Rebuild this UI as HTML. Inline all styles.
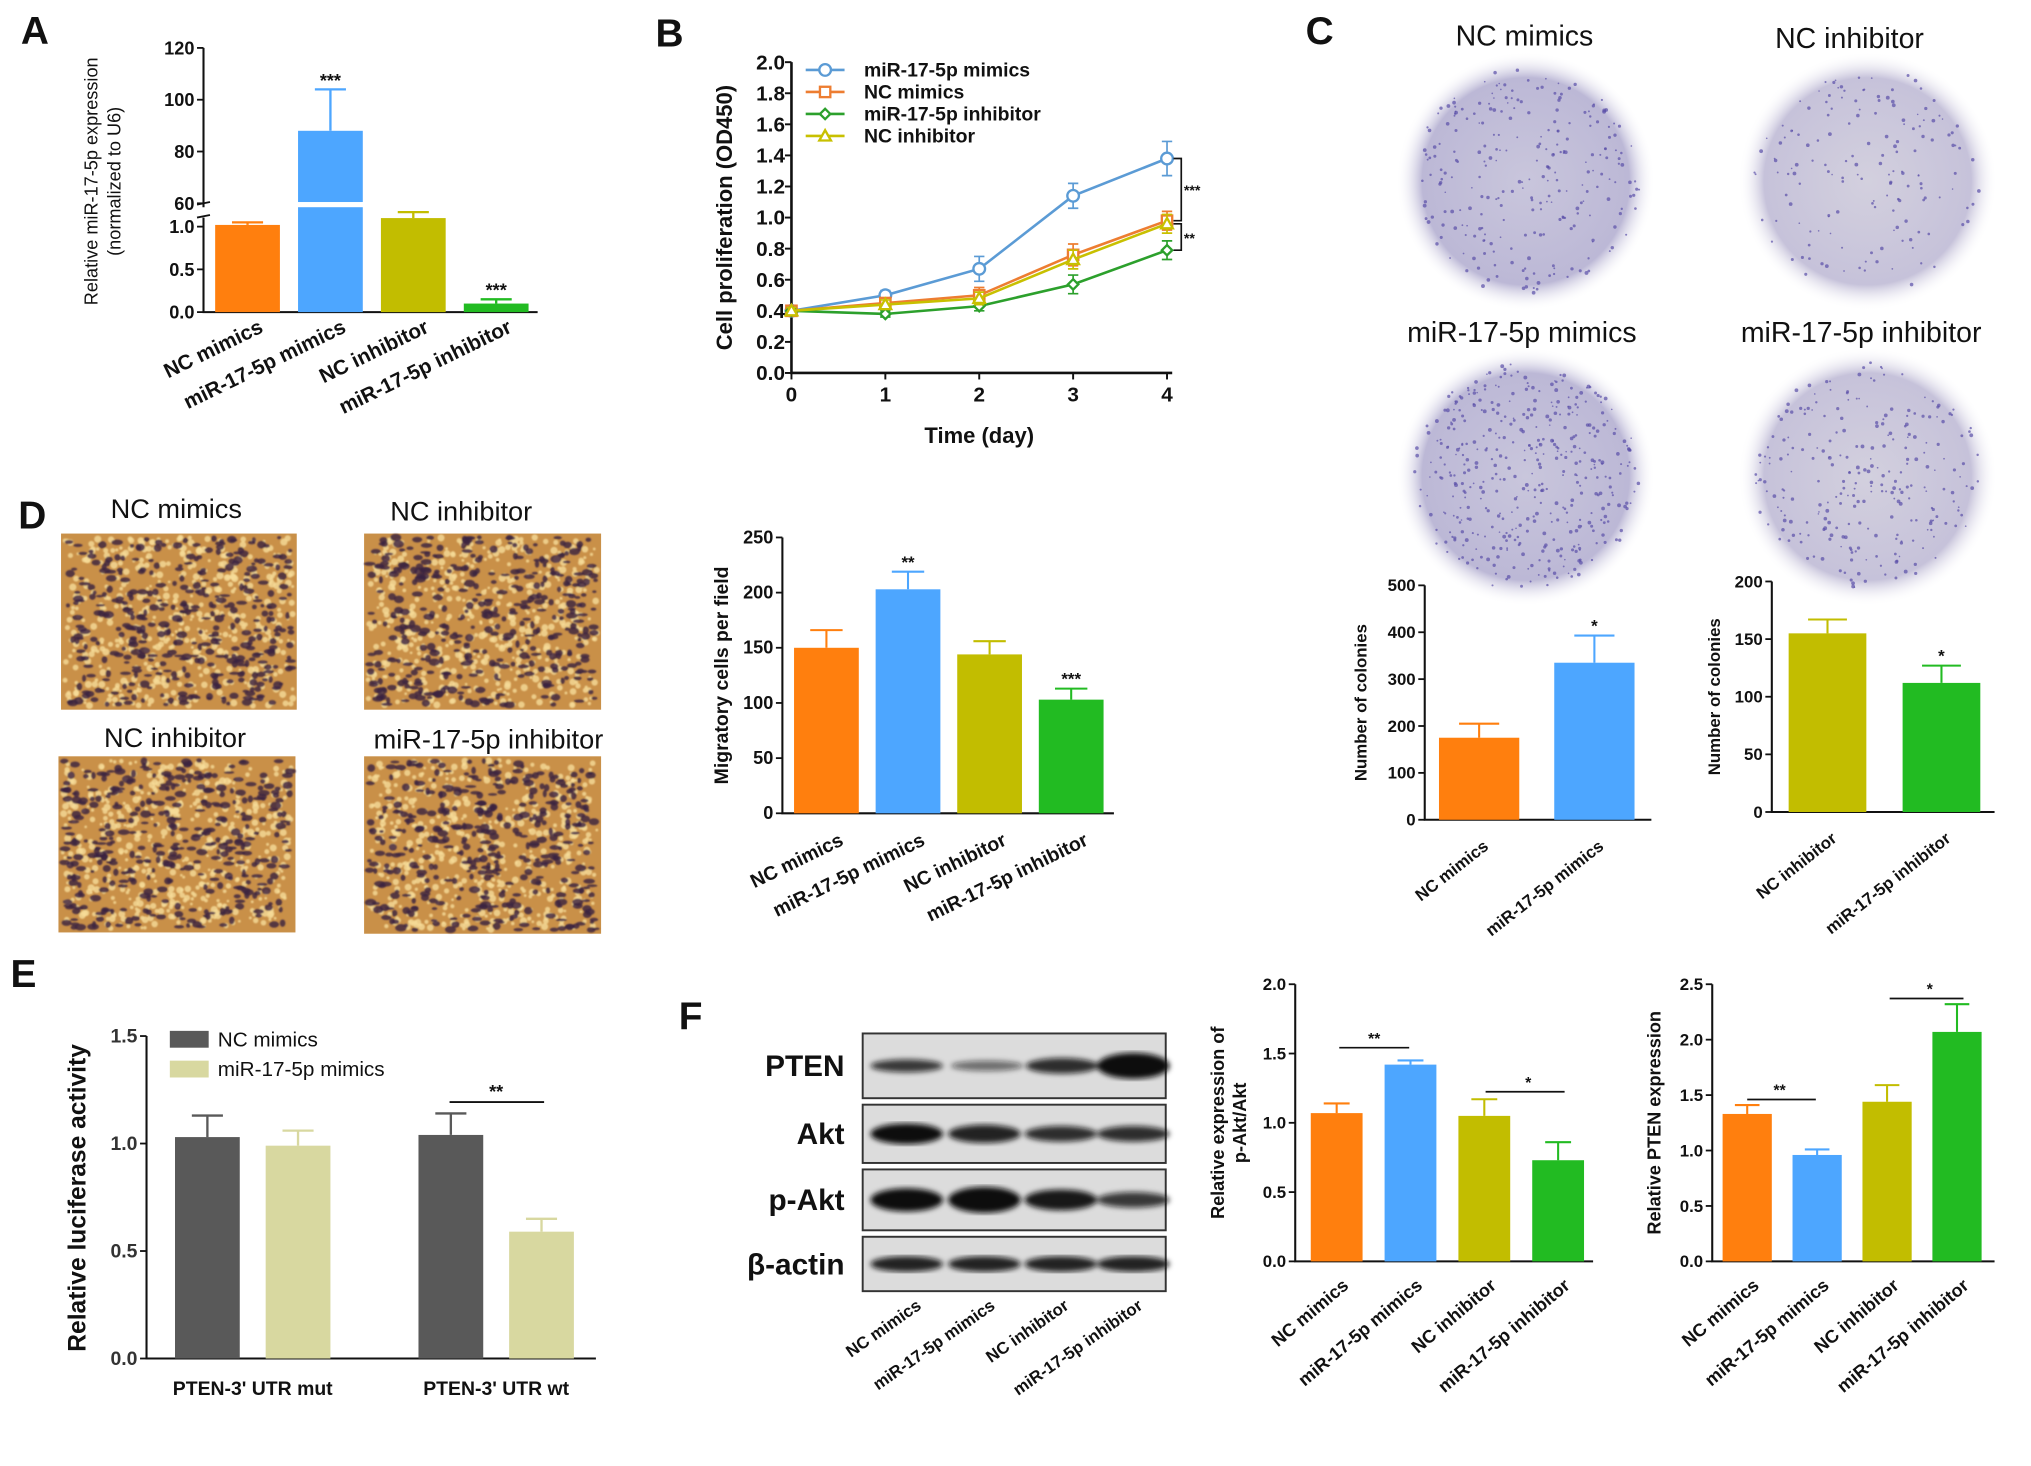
<!DOCTYPE html>
<html><head><meta charset="utf-8">
<style>
html,body{margin:0;padding:0;background:#fff;}
svg{display:block;font-family:"Liberation Sans",Arial,sans-serif;}
</style></head>
<body>
<svg id="fig" width="2031" height="1466" viewBox="0 0 1568 1132" xmlns="http://www.w3.org/2000/svg">
<defs>
<radialGradient id="plateG" cx="50%" cy="50%" r="50%">
<stop offset="0%" stop-color="#c9c6dc"/><stop offset="80%" stop-color="#bcb8d6"/><stop offset="100%" stop-color="#ffffff" stop-opacity="0"/>
</radialGradient>
<radialGradient id="plateG2" cx="50%" cy="50%" r="50%">
<stop offset="0%" stop-color="#d3d0de"/><stop offset="80%" stop-color="#c6c2da"/><stop offset="100%" stop-color="#ffffff" stop-opacity="0"/>
</radialGradient>
<filter id="blur"><feGaussianBlur stdDeviation="2"/></filter>
<filter id="blur1"><feGaussianBlur stdDeviation="0.6"/></filter>
</defs>
</svg>
<script>
// ---------- data ----------
const aCats=["NC mimics","miR-17-5p mimics","NC inhibitor","miR-17-5p inhibitor"];
const aVals=[1.02,88,1.1,0.1];
const aErr=[0.03,16,0.07,0.05];
const bDays=[0,1,2,3,4];
const bTicksY=[0,0.2,0.4,0.6,0.8,1.0,1.2,1.4,1.6,1.8,2.0];
const bSeriesNames=["miR-17-5p mimics","NC mimics","miR-17-5p inhibitor","NC inhibitor"];
const bMimics=[0.4,0.5,0.67,1.14,1.38];
const bNCMimics=[0.4,0.45,0.5,0.76,0.98];
const bInhib=[0.4,0.38,0.43,0.57,0.79];
const bNCInhib=[0.4,0.44,0.48,0.73,0.96];
const bErrM=[0.02,0.03,0.08,0.08,0.11];
const bErrO=[0.02,0.03,0.05,0.07,0.06];
const bErrG=[0.02,0.02,0.03,0.06,0.06];
const bErrY=[0.02,0.03,0.04,0.06,0.06];
const c1Cats=["NC mimics","miR-17-5p mimics"];
const c1Vals=[175,335];
const c1Err=[30,58];
const c1Ticks=[0,100,200,300,400,500];
const c2Cats=["NC inhibitor","miR-17-5p inhibitor"];
const c2Vals=[155,112];
const c2Err=[12,15];
const c2Ticks=[0,50,100,150,200];
const dCats=aCats;
const dVals=[150,203,144,103];
const dErr=[16,16,12,10];
const dTicks=[0,50,100,150,200,250];
const eGroups=["PTEN-3' UTR mut","PTEN-3' UTR wt"];
const eNC=[1.03,1.04];
const eMim=[0.99,0.59];
const eNCErr=[0.1,0.1];
const eMimErr=[0.07,0.06];
const eTicks=[0,0.5,1.0,1.5];
const f1Vals=[1.07,1.42,1.05,0.73];
const f1Err=[0.07,0.03,0.12,0.13];
const f1Ticks=[0,0.5,1.0,1.5,2.0];
const f2Vals=[1.33,0.96,1.44,2.07];
const f2Err=[0.08,0.05,0.15,0.25];
const f2Ticks=[0,0.5,1.0,1.5,2.0,2.5];

const COL=["#ff7f0e","#4da6ff","#c2bd00","#22bb22"];
const NS="http://www.w3.org/2000/svg";
const svg=document.getElementById('fig');
function mk(tag,attrs,parent){const e=document.createElementNS(NS,tag);for(const k in attrs)e.setAttribute(k,attrs[k]);(parent||svg).appendChild(e);return e;}
function txt(x,y,s,attrs,parent){const t=mk('text',Object.assign({x:x,y:y,'font-size':14,'font-weight':'bold',fill:'#111'},attrs||{}),parent);t.textContent=s;return t;}
function fmt(v,d){return v.toFixed(d);}

[["A",16,34],["B",506,36],["C",1008,34],["D",14,408],["E",8,762],["F",524,795]].forEach(p=>{
  const t=txt(p[1],p[2],p[0],{'font-size':30});
  
  
});

function barChart(o){
  const g=mk('g',{});
  
  
  const ys=v=>o.y0-(v/o.max)*(o.y0-o.yTop);
  const ax=mk('path',{d:`M${o.ax} ${o.yTop} V${o.y0} H${o.xEnd}`,stroke:'#111','stroke-width':1.6,fill:'none'},g);
  
  
  o.ticks.forEach(t=>{
    mk('line',{x1:o.ax-5,x2:o.ax,y1:ys(t),y2:ys(t),stroke:'#111','stroke-width':1.4},g);
    const tl=txt(o.ax-7,ys(t)+4.5,fmt(t,o.dec),{'text-anchor':'end','font-size':o.tfs||13},g);
    
    
  });
  o.vals.forEach((v,i)=>{
    const x=o.x0+i*o.step, w=o.w;
    const col=o.cols[i];
    const b=mk('rect',{x:x,y:ys(v),width:w,height:o.y0-ys(v),fill:col},g);
    
    
    const top=ys(v+o.err[i]);
    mk('path',{d:`M${x+w/2} ${ys(v)} V${top} M${x+w/2-w*0.25} ${top} H${x+w/2+w*0.25}`,stroke:col,'stroke-width':1.6,fill:'none'},g);
    if(o.stars&&o.stars[i]){const s=txt(x+w/2,top-3,o.stars[i],{'text-anchor':'middle','font-size':13},g);
      
      }
    if(o.cats){const cx=x+w/2+(o.lblDx||8), cy=o.y0+(o.lblDy||18);
      const l=txt(cx,cy,o.cats[i],{'text-anchor':'end','font-size':o.cfs||14,transform:`rotate(${o.rot||-32} ${cx} ${cy})`},g);
      
      }
  });
  const tx=o.titleX, ty=(o.y0+o.yTop)/2;
  const tt=mk('text',{x:tx,y:ty,'font-size':o.titleFs||14,'font-weight':'bold','text-anchor':'middle',fill:'#111',transform:`rotate(-90 ${tx} ${ty})`},g);
  o.title.forEach((ln,k)=>{const ts=mk('tspan',{x:tx,dy:k?17:0},tt);ts.textContent=ln;});
  
  
  return {g,ys};
}

// ---------- Panel A (broken axis) ----------
(function(){
  const g=mk('g',{});
  
  
  const y0=241, ax=157;
  const ysL=v=>y0-v*66;
  const ysU=v=>157-(v-60)*2;
  const ys=v=>v<=5?ysL(v):ysU(v);
  mk('path',{d:`M${ax} 37 V160 M${ax} 168 V${y0} H415`,stroke:'#111','stroke-width':1.6,fill:'none'},g);
  mk('path',{d:`M${ax-5} 158 L${ax+5} 156 M${ax-5} 168 L${ax+5} 166`,stroke:'#111','stroke-width':1.4},g);
  [[0,'0.0'],[0.5,'0.5'],[1.0,'1.0']].forEach(t=>{mk('line',{x1:ax-5,x2:ax,y1:ysL(t[0]),y2:ysL(t[0]),stroke:'#111','stroke-width':1.4},g);
    const l=txt(ax-7,ysL(t[0])+5,t[1],{'text-anchor':'end','font-size':14},g);
    
    });
  [60,80,100,120].forEach(t=>{mk('line',{x1:ax-5,x2:ax,y1:ysU(t),y2:ysU(t),stroke:'#111','stroke-width':1.4},g);
    const l=txt(ax-7,ysU(t)+5,String(t),{'text-anchor':'end','font-size':14},g);
    
    });
  const stars=["","***","","***"];
  aVals.forEach((v,i)=>{
    const x=166+i*64,w=50;
    const b=mk('rect',{x:x,y:ys(v),width:w,height:y0-ys(v),fill:COL[i]},g);
    
    
    if(v>5) mk('rect',{x:x-1,y:156,width:w+2,height:4,fill:'#fff'},g);
    const top=ys(v+aErr[i]);
    mk('path',{d:`M${x+25} ${ys(v)} V${top} M${x+13} ${top} H${x+37}`,stroke:COL[i],'stroke-width':1.8,fill:'none'},g);
    if(stars[i]){const s=txt(x+25,top-2,stars[i],{'text-anchor':'middle','font-size':14},g);
      
      }
    const cx=x+38,cy=256;
    const l=txt(cx,cy,aCats[i],{'text-anchor':'end','font-size':16,transform:`rotate(-26 ${cx} ${cy})`},g);
    
    
  });
  const tt=mk('text',{x:75,y:140,'font-size':14,'text-anchor':'middle',fill:'#111',transform:'rotate(-90 75 140)'},g);
  const t1=mk('tspan',{x:75,dy:0},tt);t1.textContent="Relative miR-17-5p expression";
  const t2=mk('tspan',{x:75,dy:18},tt);t2.textContent="(normalized to U6)";
  
  
})();

// ---------- Panel B (line chart) ----------
(function(){
  const g=mk('g',{});
  
  
  const ax=611,y0=288,yTop=48;
  const xs=d=>ax+d*72.5, ys=v=>y0-(v/2)*(y0-yTop);
  mk('path',{d:`M${ax} ${yTop} V${y0} H${xs(4)+4}`,stroke:'#111','stroke-width':2,fill:'none'},g);
  bTicksY.forEach(t=>{mk('line',{x1:ax-5,x2:ax,y1:ys(t),y2:ys(t),stroke:'#111','stroke-width':1.5},g);
    const l=txt(ax-5,ys(t)+5.5,t.toFixed(1),{'text-anchor':'end','font-size':16},g);
    
    });
  bDays.forEach(d=>{mk('line',{x1:xs(d),x2:xs(d),y1:y0,y2:y0+5,stroke:'#111','stroke-width':1.5},g);
    const l=txt(xs(d),y0+22,String(d),{'text-anchor':'middle','font-size':16},g);
    
    });
  const xt=txt(xs(2),y0+54,"Time (day)",{'text-anchor':'middle','font-size':17},g);
  
  
  const yt=txt(565,168,"Cell proliferation (OD450)",{'text-anchor':'middle','font-size':17,transform:'rotate(-90 565 168)'},g);
  
  
  const series=[[bMimics,bErrM,'#5b9bd5','circle'],[bNCMimics,bErrO,'#ed7d31','square'],[bInhib,bErrG,'#2ca02c','diamond'],[bNCInhib,bErrY,'#c8c000','triangle']];
  function marker(x,y,shape,col,parent){
    if(shape==='circle')return mk('circle',{cx:x,cy:y,r:4.5,fill:'#fff',stroke:col,'stroke-width':1.8},parent);
    if(shape==='square')return mk('rect',{x:x-4,y:y-4,width:8,height:8,fill:'#fff',stroke:col,'stroke-width':1.8},parent);
    if(shape==='diamond')return mk('path',{d:`M${x} ${y-4} L${x+4} ${y} L${x} ${y+4} L${x-4} ${y}Z`,fill:'#fff',stroke:col,'stroke-width':1.8},parent);
    return mk('path',{d:`M${x} ${y-4.5} L${x+4.5} ${y+3.5} L${x-4.5} ${y+3.5}Z`,fill:'#fff',stroke:col,'stroke-width':1.8},parent);
  }
  series.forEach((s,si)=>{
    const sg=mk('g',{},g);
    
    
    const pts=s[0].map((v,i)=>`${xs(bDays[i])},${ys(v)}`).join(' ');
    mk('polyline',{points:pts,fill:'none',stroke:s[2],'stroke-width':2},sg);
    s[0].forEach((v,i)=>{const x=xs(bDays[i]);
      mk('path',{d:`M${x} ${ys(v-s[1][i])} V${ys(v+s[1][i])} M${x-4} ${ys(v-s[1][i])} H${x+4} M${x-4} ${ys(v+s[1][i])} H${x+4}`,stroke:s[2],'stroke-width':1.3},sg);
      const m=marker(x,ys(v),s[3],s[2],sg);
      
      });
    const ly=54+si*17;
    mk('line',{x1:622,x2:652,y1:ly,y2:ly,stroke:s[2],'stroke-width':2},g);
    marker(637,ly,s[3],s[2],g);
    const lt=txt(667,ly+5,bSeriesNames[si],{'font-size':15},g);
    
    
  });
  mk('path',{d:`M906 ${ys(1.38)} H912 V${ys(0.98)} H906 M906 ${ys(0.96)} H912 V${ys(0.79)} H906`,stroke:'#111','stroke-width':1.3,fill:'none'},g);
  txt(914,ys(1.18)+4,"***",{'font-size':11},g);
  txt(914,ys(0.87)+4,"**",{'font-size':11},g);
})();

let seed=7;function rnd(){seed=(seed*16807)%2147483647;return seed/2147483647;}

// ---------- Panel C plates ----------
[["NC mimics",1178,140,1177,35,260],["NC inhibitor",1442,140,1428,37,160],["miR-17-5p mimics",1178,368,1175,264,420],["miR-17-5p inhibitor",1442,368,1437,264,260]].forEach((p,pi)=>{
  const g=mk('g',{});
  
  
  mk('circle',{cx:p[1],cy:p[2],r:100,fill:pi%2?'url(#plateG2)':'url(#plateG)'},g);
  for(let k=0;k<p[5];k++){const a=rnd()*6.283,r=Math.sqrt(rnd())*88;
    mk('circle',{cx:p[1]+Math.cos(a)*r,cy:p[2]+Math.sin(a)*r,r:0.6+rnd()*0.9,fill:'#5a4fa8','fill-opacity':0.7},g);}
  const t=txt(p[3],p[4],p[0],{'text-anchor':'middle','font-size':22,'font-weight':'normal'});
  
  
});
barChart({name:'panel-c-colonies-mimics',ax:1100,y0:633,yTop:452,max:500,xEnd:1275,ticks:c1Ticks,dec:0,vals:c1Vals,err:c1Err,x0:1111,step:89,w:62,cols:[COL[0],COL[1]],stars:["","*"],cats:c1Cats,titleX:1055,title:["Number of colonies"],cfs:13,lblDx:8,lblDy:22,rot:-38,titleFs:13});
barChart({name:'panel-c-colonies-inhibitor',ax:1368,y0:627,yTop:449,max:200,xEnd:1540,ticks:c2Ticks,dec:0,vals:c2Vals,err:c2Err,x0:1381,step:88,w:60,cols:[COL[2],COL[3]],stars:["","*"],cats:c2Cats,titleX:1328,title:["Number of colonies"],cfs:13,lblDx:8,lblDy:22,rot:-38,titleFs:13});

// ---------- Panel D transwell images ----------
[["NC mimics",47,412,182,136,136,400],["NC inhibitor",281,412,183,136,356,402],["NC inhibitor",45,584,183,136,135,577],["miR-17-5p inhibitor",281,584,183,137,377,578]].forEach((p,pi)=>{
  const g=mk('g',{});
  
  
  mk('rect',{x:p[1],y:p[2],width:p[3],height:p[4],fill:'#c99048'},g);
  const gg=mk('g',{filter:'url(#blur1)'},g);
  for(let k=0;k<500;k++){
    mk('circle',{cx:p[1]+3+rnd()*(p[3]-6),cy:p[2]+3+rnd()*(p[4]-6),r:1+rnd()*1.8,fill:'#f6dc98','fill-opacity':0.8},gg);
  }
  for(let k=0;k<380;k++){
    mk('ellipse',{cx:p[1]+4+rnd()*(p[3]-8),cy:p[2]+3+rnd()*(p[4]-6),rx:1.5+rnd()*3,ry:1+rnd()*2,fill:'#3a2040','fill-opacity':0.8},gg);
  }
  const t=txt(p[5],p[6],p[0],{'text-anchor':'middle','font-size':21,'font-weight':'normal'});
  
  
});
barChart({name:'panel-d-migration-chart',ax:604,y0:628,yTop:415,max:250,xEnd:860,ticks:dTicks,dec:0,vals:dVals,err:dErr,x0:613,step:63,w:50,cols:COL,stars:["","**","","***"],cats:dCats,titleX:562,title:["Migratory cells per field"],cfs:15,lblDx:14,lblDy:24,rot:-26,tfs:14,titleFs:15});

// ---------- Panel E ----------
(function(){
  const g=mk('g',{});
  
  
  const ax=113,y0=1049,yTop=800,ys=v=>y0-(v/1.5)*(y0-yTop);
  mk('path',{d:`M${ax} ${yTop} V${y0} H460`,stroke:'#111','stroke-width':1.6,fill:'none'},g);
  eTicks.forEach(t=>{mk('line',{x1:ax-5,x2:ax,y1:ys(t),y2:ys(t),stroke:'#111','stroke-width':1.4},g);
    const l=txt(ax-7,ys(t)+5,t.toFixed(1),{'text-anchor':'end','font-size':15,fill:'#333'},g);
    
    });
  eGroups.forEach((gn,i)=>{
    const gx=135+i*188;
    [[eNC[i],eNCErr[i],'#595959',gx],[eMim[i],eMimErr[i],'#d8d8a0',gx+70]].forEach((b,j)=>{
      const r=mk('rect',{x:b[3],y:ys(b[0]),width:50,height:y0-ys(b[0]),fill:b[2]},g);
      
      
      const top=ys(b[0]+b[1]);
      mk('path',{d:`M${b[3]+25} ${ys(b[0])} V${top} M${b[3]+13} ${top} H${b[3]+37}`,stroke:b[2],'stroke-width':1.8,fill:'none'},g);
    });
    const l=txt(gx+60,1077,gn,{'text-anchor':'middle','font-size':15},g);
    
    
  });
  mk('line',{x1:347,x2:420,y1:851,y2:851,stroke:'#111','stroke-width':1.4},g);
  txt(383,848,"**",{'text-anchor':'middle','font-size':14},g);
  const yt=txt(66,925,"Relative luciferase activity",{'text-anchor':'middle','font-size':19,transform:'rotate(-90 66 925)'},g);
  
  
  [["NC mimics",'#595959',796],["miR-17-5p mimics",'#d8d8a0',819]].forEach(l=>{
    mk('rect',{x:131,y:l[2],width:30,height:13,fill:l[1]},g);
    const t=txt(168,l[2]+12,l[0],{'font-size':16,'font-weight':'normal'},g);
    
    
  });
})();

// ---------- Panel F western blot ----------
(function(){
  const g=mk('g',{});
  
  
  const rows=[["PTEN",798,848,[[700,0.8,5],[762,0.55,4],[820,0.85,6],[875,1,10]]],["Akt",853,898,[[700,1,8],[760,0.9,7],[819,0.85,6],[875,0.85,6]]],["p-Akt",903,950,[[700,1,9],[760,1,10],[819,0.95,8],[875,0.8,6]]],["β-actin",955,997,[[700,0.9,6],[760,0.9,6],[819,0.9,6],[875,0.9,6]]]];
  rows.forEach(r=>{
    mk('rect',{x:666,y:r[1],width:234,height:r[2]-r[1],fill:'#dcdcdc',stroke:'#333','stroke-width':1.5},g);
    const bg=mk('g',{filter:'url(#blur)'},g);
    const cy=(r[1]+r[2])/2;
    r[3].forEach(b=>mk('ellipse',{cx:b[0],cy:cy,rx:28,ry:b[2],fill:'#111','fill-opacity':b[1]},bg));
    const t=txt(652,cy+8,r[0],{'text-anchor':'end','font-size':23});
    
    
  });
  aCats.forEach((c,i)=>{const cx=712+i*57,cy=1010;
    const t=txt(cx,cy,c,{'text-anchor':'end','font-size':13,transform:`rotate(-35 ${cx} ${cy})`});
    
    });
})();
barChart({name:'panel-f-pakt-chart',ax:1000,y0:974,yTop:760,max:2,xEnd:1230,ticks:f1Ticks,dec:1,vals:f1Vals,err:f1Err,x0:1012,step:57,w:40,cols:COL,cats:aCats,titleX:945,title:["Relative expression of","p-Akt/Akt"],cfs:14,lblDx:10,lblDy:20,rot:-40});
mk('line',{x1:1034,x2:1088,y1:809,y2:809,stroke:'#111','stroke-width':1.3});txt(1061,806,"**",{'text-anchor':'middle','font-size':12});
mk('line',{x1:1147,x2:1208,y1:843,y2:843,stroke:'#111','stroke-width':1.3});txt(1180,840,"*",{'text-anchor':'middle','font-size':12});
barChart({name:'panel-f-pten-chart',ax:1322,y0:974,yTop:760,max:2.5,xEnd:1540,ticks:f2Ticks,dec:1,vals:f2Vals,err:f2Err,x0:1330,step:54,w:38,cols:COL,cats:aCats,titleX:1282,title:["Relative PTEN expression"],cfs:14,lblDx:10,lblDy:20,rot:-40});
mk('line',{x1:1349,x2:1402,y1:849,y2:849,stroke:'#111','stroke-width':1.3});txt(1374,846,"**",{'text-anchor':'middle','font-size':12});
mk('line',{x1:1459,x2:1516,y1:771,y2:771,stroke:'#111','stroke-width':1.3});txt(1490,768,"*",{'text-anchor':'middle','font-size':12});
</script>
</body></html>
